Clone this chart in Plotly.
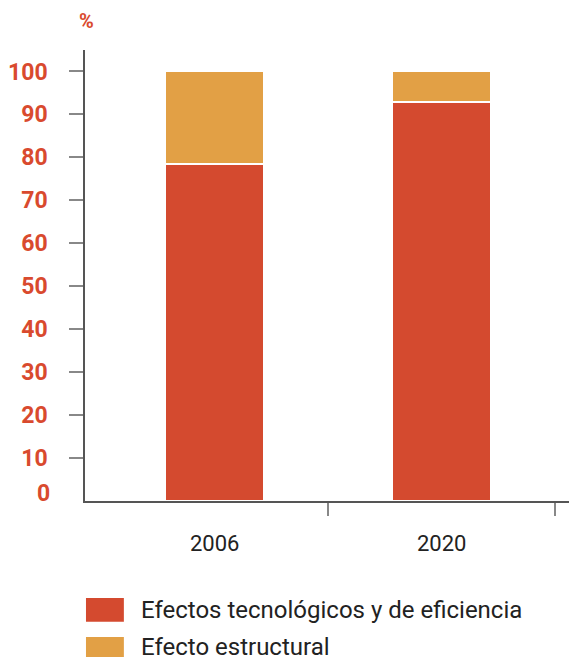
import plotly.graph_objects as go

# datos
years = ["2006", "2020"]
tecnologicos = [78.5, 93]
estructural = [21.5, 7]
series_names = ["Efectos tecnológicos y de eficiencia", "Efecto estructural"]
series_colors = ["#D44A2F", "#E2A045"]
y_ticks = [10, 20, 30, 40, 50, 60, 70, 80, 90, 100]

RED = "#D94A2E"
x_pos = list(range(len(years)))

fig = go.Figure()
for name, vals, col in zip(series_names, [tecnologicos, estructural], series_colors):
    fig.add_trace(go.Bar(
        x=x_pos, y=vals, name=name, width=0.435,
        marker=dict(color=col, line=dict(color="white", width=2.5)),
        showlegend=False,
    ))

# etiquetas de años
for i, yr in zip(x_pos, years):
    fig.add_annotation(x=i, y=-0.095, xref="x", yref="paper", text=yr,
                       showarrow=False, yanchor="middle",
                       font=dict(family="Roboto", size=22, color="#222222"))

# "0" y "%"
fig.add_annotation(x=0, y=0, xref="paper", yref="y", text="<b>0</b>",
                   showarrow=False, xanchor="right", yanchor="middle",
                   xshift=-33, yshift=8,
                   font=dict(family="Roboto", size=23, color=RED))
fig.add_annotation(x=0.004, y=1.064, xref="paper", yref="paper", text="<b>%</b>",
                   showarrow=False, xanchor="center", yanchor="middle",
                   font=dict(family="Roboto", size=20, color=RED))

# leyenda manual
legend_y = [(-0.268, -0.215, -0.2417), (-0.355, -0.3016, -0.324)]
for name, col, (y0, y1, yt) in zip(series_names, series_colors, legend_y):
    fig.add_shape(type="rect", xref="paper", yref="paper",
                  x0=0.002, x1=0.079, y0=y0, y1=y1,
                  fillcolor=col, line=dict(width=0))
    fig.add_annotation(x=0.109, y=yt, xref="paper", yref="paper", text=name,
                       showarrow=False, xanchor="left", yanchor="middle",
                       font=dict(family="Roboto", size=24, color="#222222"))

# la página tiene 8 px de margen: figura de 569x649
fig.update_layout(
    width=569, height=649,
    margin=dict(l=75, r=0, t=42, b=156),
    plot_bgcolor="white", paper_bgcolor="white",
    barmode="stack", bargap=0,
    showlegend=False,
)
fig.update_xaxes(
    range=[-0.57, 1.596], tickvals=[0.5, 1.5], showticklabels=False,
    ticks="outside", ticklen=13, tickcolor="#888888", tickwidth=2,
    showline=True, linecolor="#555555", linewidth=1.5,
    showgrid=False, zeroline=False,
)
fig.update_yaxes(
    range=[0, 105], tickvals=y_ticks, ticktext=[f"<b>{v}</b>" for v in y_ticks],
    ticks="outside", ticklen=14, tickcolor="#888888", tickwidth=2,
    ticklabelstandoff=17,
    tickfont=dict(family="Roboto", size=23, color=RED),
    showline=True, linecolor="#555555", linewidth=1.5,
    showgrid=False, zeroline=False,
)

fig.write_html("out.html")
